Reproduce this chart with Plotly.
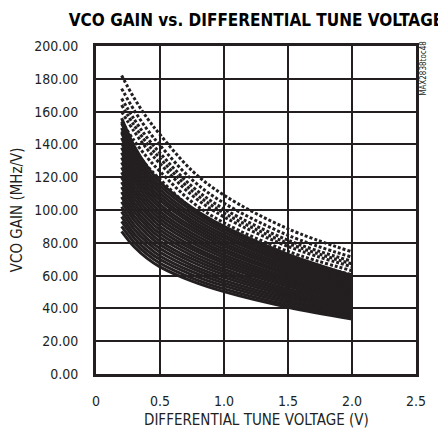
import plotly.graph_objects as go

# ---- data ----
tune_voltage = [0.2, 0.3, 0.4, 0.5, 0.75, 1.0, 1.5, 2.0]

# solid curves: VCO gain (MHz/V) at each tune voltage
solid_curves = [
    [156, 138.8, 126.4, 117.0, 101.4, 90.0, 73.0, 60.1],
    [153, 136.2, 123.9, 114.8, 99.5, 88.3, 71.6, 58.9],
    [150, 133.5, 121.5, 112.5, 97.5, 86.6, 70.2, 57.8],
    [147, 130.8, 119.1, 110.3, 95.6, 84.8, 68.8, 56.6],
    [144, 128.2, 116.6, 108.0, 93.6, 83.1, 67.4, 55.4],
    [141, 125.5, 114.2, 105.8, 91.7, 81.4, 66.0, 54.3],
    [138, 122.8, 111.8, 103.5, 89.7, 79.6, 64.6, 53.1],
    [135, 120.2, 109.4, 101.3, 87.8, 77.9, 63.2, 52.0],
    [132, 117.5, 106.9, 99.0, 85.8, 76.2, 61.8, 50.8],
    [129, 114.8, 104.5, 96.8, 83.9, 74.4, 60.4, 49.7],
    [126, 112.1, 102.1, 94.5, 81.9, 72.7, 59.0, 48.5],
    [123, 109.5, 99.6, 92.3, 80.0, 71.0, 57.6, 47.4],
    [120, 106.8, 97.2, 90.0, 78.0, 69.2, 56.2, 46.2],
    [117, 104.1, 94.8, 87.8, 76.1, 67.5, 54.8, 45.0],
    [114, 101.5, 92.3, 85.5, 74.1, 65.8, 53.4, 43.9],
    [111, 98.8, 89.9, 83.3, 72.2, 64.0, 51.9, 42.7],
    [108, 96.1, 87.5, 81.0, 70.2, 62.3, 50.5, 41.6],
    [105, 93.5, 85.1, 78.8, 68.3, 60.6, 49.1, 40.4],
    [102, 90.8, 82.6, 76.5, 66.3, 58.9, 47.7, 39.3],
    [99, 88.1, 80.2, 74.3, 64.4, 57.1, 46.3, 38.1],
    [96, 85.4, 77.8, 72.0, 62.4, 55.4, 44.9, 37.0],
    [93, 82.8, 75.3, 69.8, 60.5, 53.7, 43.5, 35.8],
    [90, 80.1, 72.9, 67.5, 58.5, 51.9, 42.1, 34.7],
    [87, 77.4, 70.5, 65.3, 56.6, 50.2, 40.7, 33.5],
]

# dotted curves (upper group)
dotted_curves = [
    [182, 168.0, 156.0, 146.0, 124.0, 109.0, 88.5, 74.5],
    [174, 160.6, 149.1, 139.5, 118.5, 104.2, 84.6, 71.2],
    [168, 155.1, 144.0, 134.7, 114.4, 100.6, 81.6, 68.7],
    [164, 151.4, 140.5, 131.5, 111.7, 98.2, 79.7, 67.1],
    [160, 147.7, 137.1, 128.3, 109.0, 95.8, 77.8, 65.4],
    [154, 142.1, 132.0, 123.5, 104.9, 92.2, 74.8, 63.0],
    [148, 136.6, 126.8, 118.7, 100.8, 88.7, 71.9, 60.5],
]

x_tick_vals = [0, 0.5, 1.0, 1.5, 2.0, 2.5]
x_tick_text = ["0", "0.5", "1.0", "1.5", "2.0", "2.5"]
y_tick_vals = [0, 20, 40, 60, 80, 100, 120, 140, 160, 180, 200]

FONT = "Liberation Sans Narrow, DejaVu Sans Condensed, Arial Narrow, sans-serif"
INK = "#231f20"

fig = go.Figure()
for curve in solid_curves:
    fig.add_trace(go.Scatter(x=tune_voltage, y=curve, mode="lines",
                             line=dict(color=INK, width=3, shape="spline"),
                             showlegend=False, hoverinfo="skip"))
for curve in dotted_curves:
    fig.add_trace(go.Scatter(x=tune_voltage, y=curve, mode="lines",
                             line=dict(color=INK, width=3, shape="spline", dash="3px,2px"),
                             showlegend=False, hoverinfo="skip"))

fig.update_layout(
    width=438, height=434,
    margin=dict(l=96, r=13, t=46, b=60),
    paper_bgcolor="white", plot_bgcolor="white",
    font=dict(family=FONT, size=14, color=INK),
    title=dict(text="<b>VCO GAIN vs. DIFFERENTIAL TUNE VOLTAGE</b>",
               x=0.5, xref="paper", xanchor="center",
               y=1 - 20 / 434, yref="container", yanchor="middle",
               font=dict(family=FONT, size=17, color="black")),
)
fig.update_xaxes(range=[0, 2.5], tickvals=x_tick_vals, ticktext=x_tick_text,
                 showgrid=True, gridcolor=INK, gridwidth=1.8,
                 showline=True, linecolor=INK, linewidth=3, mirror=True,
                 ticks="", ticklabelstandoff=12, zeroline=False)
fig.update_yaxes(range=[0, 200], tickvals=y_tick_vals, tickformat=".2f",
                 showgrid=True, gridcolor=INK, gridwidth=1.8,
                 showline=True, linecolor=INK, linewidth=3, mirror=True,
                 ticks="", ticklabelstandoff=12, zeroline=False)

fig.add_annotation(text="DIFFERENTIAL TUNE VOLTAGE (V)", xref="paper", yref="paper",
                   x=0.5, y=-46 / 328, xanchor="center", yanchor="middle",
                   showarrow=False, font=dict(family=FONT, size=15, color=INK))
fig.add_annotation(text="VCO GAIN (MHz/V)", xref="paper", yref="paper",
                   x=-81 / 329, y=0.5, xanchor="center", yanchor="middle",
                   textangle=-90, showarrow=False,
                   font=dict(family=FONT, size=15, color=INK))
fig.add_annotation(text="MAX2838toc48", xref="paper", yref="paper",
                   x=1 + 8 / 329, y=(374 - 68) / 328, xanchor="center", yanchor="middle",
                   textangle=-90, showarrow=False,
                   font=dict(family=FONT, size=8, color=INK))

fig.write_html("out.html", config={"displayModeBar": False},
               post_script="document.body.style.margin='0';")
